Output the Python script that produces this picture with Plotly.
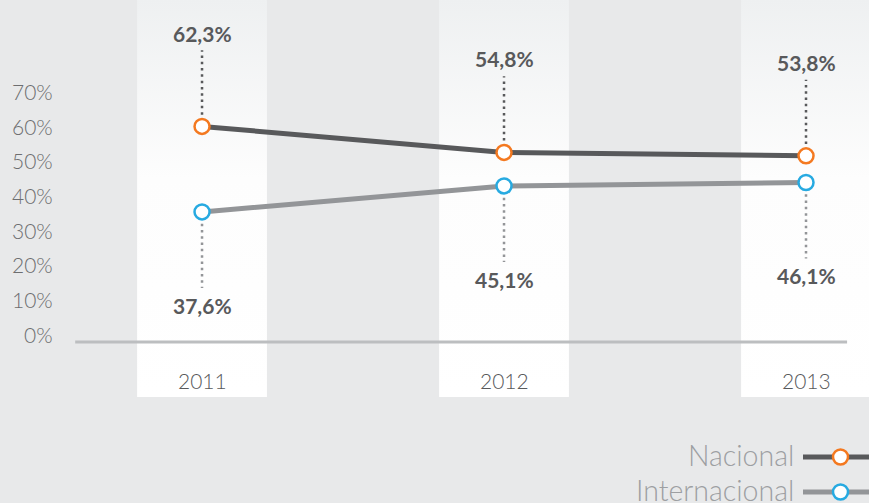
import plotly.graph_objects as go

years = [2011, 2012, 2013]
nacional = [62.3, 54.8, 53.8]
internacional = [37.6, 45.1, 46.1]
nacional_labels = ['62,3%', '54,8%', '53,8%']
internacional_labels = ['37,6%', '45,1%', '46,1%']
y_ticks = [0, 10, 20, 30, 40, 50, 60, 70]
y_tick_labels = ['0%', '10%', '20%', '30%', '40%', '50%', '60%', '70%']

DARK = '#58595b'
LIGHT = '#939598'
ORANGE = '#f47920'
BLUE = '#27aae1'
BG = '#e8e9ea'
FONT = 'Lato'

fig = go.Figure()

# white column bands behind each year
for yr in years:
    fig.add_trace(go.Scatter(
        x=[yr - 0.215, yr + 0.215, yr + 0.215, yr - 0.215],
        y=[-15.9, -15.9, 99, 99], fill='toself', mode='none',
        fillgradient=dict(type='vertical',
                          colorscale=[[0, '#ffffff'], [0.55, '#fdfdfd'], [1, '#eef0f1']]),
        hoverinfo='skip', showlegend=False))

# dotted leader lines
for yr, v in zip(years, nacional):
    fig.add_trace(go.Scatter(x=[yr, yr], y=[v + 3.4, v + 22], mode='lines',
                             line=dict(color=DARK, width=2.5, dash='2.5px,3.8px'),
                             hoverinfo='skip', showlegend=False))
for yr, v in zip(years, internacional):
    fig.add_trace(go.Scatter(x=[yr, yr], y=[v - 3.4, v - 22], mode='lines',
                             line=dict(color=LIGHT, width=2.5, dash='2.5px,3.8px'),
                             hoverinfo='skip', showlegend=False))

fig.add_trace(go.Scatter(x=years, y=nacional, mode='lines+markers', name='Nacional',
                         line=dict(color=DARK, width=5),
                         marker=dict(size=15, color='white', line=dict(color=ORANGE, width=2.5)),
                         showlegend=False))
fig.add_trace(go.Scatter(x=years, y=internacional, mode='lines+markers', name='Internacional',
                         line=dict(color=LIGHT, width=5),
                         marker=dict(size=15, color='white', line=dict(color=BLUE, width=2.5)),
                         showlegend=False))

# baseline
fig.add_shape(type='line', x0=2010.58, x1=2013.136, y0=0, y1=0,
              line=dict(color='#bcbec0', width=3))

annotations = []
for yr, v, t in zip(years, nacional, nacional_labels):
    annotations.append(dict(x=yr, y=v + 27, text=t, showarrow=False,
                            font=dict(family=FONT, size=21, color=DARK, weight=700)))
for yr, v, t in zip(years, internacional, internacional_labels):
    annotations.append(dict(x=yr, y=v - 27, text=t, showarrow=False,
                            font=dict(family=FONT, size=21, color=DARK, weight=700)))
for yr in years:
    annotations.append(dict(x=yr, y=-11, text=str(yr), showarrow=False,
                            font=dict(family=FONT, size=21, color=DARK, weight=300)))
for v, t in zip(y_ticks, y_tick_labels):
    annotations.append(dict(x=55 / 869, xref='paper', xanchor='right', y=v, yshift=8,
                            text=t, showarrow=False,
                            font=dict(family=FONT, size=21, color='#6d6e70', weight=300)))

# custom legend, text on the left of the symbol
legend = [('Nacional', DARK, ORANGE, 455), ('Internacional', LIGHT, BLUE, 490)]
for name, lc, mc, py in legend:
    yp = 1 - py / 503
    annotations.append(dict(x=796 / 869, xref='paper', xanchor='right', y=yp, yref='paper',
                            yanchor='middle', text=name, showarrow=False,
                            font=dict(family=FONT, size=28.5, color='#9d9fa2', weight=300)))
    fig.add_shape(type='line', xref='paper', yref='paper', x0=803 / 869, x1=1, y0=yp - 2 / 503,
                  y1=yp - 2 / 503, line=dict(color=lc, width=5))
    fig.add_shape(type='circle', xref='paper', yref='paper',
                  x0=833 / 869, x1=848 / 869, y0=yp - 9.5 / 503, y1=yp + 5.5 / 503,
                  fillcolor='white', line=dict(color=mc, width=2.5))

fig.update_layout(
    width=869, height=503,
    margin=dict(l=0, r=0, t=0, b=0),
    paper_bgcolor=BG, plot_bgcolor=BG,
    xaxis=dict(range=[2010.331, 2013.2086], visible=False),
    yaxis=dict(range=[-46.53, 98.84], visible=False),
    annotations=annotations,
    showlegend=False,
)

fig.write_html("out.html", config={'displayModeBar': False},
               post_script="document.body.style.margin='0';"
                           "document.body.style.overflow='hidden';"
                           "document.body.style.background='#e8e9ea';")
